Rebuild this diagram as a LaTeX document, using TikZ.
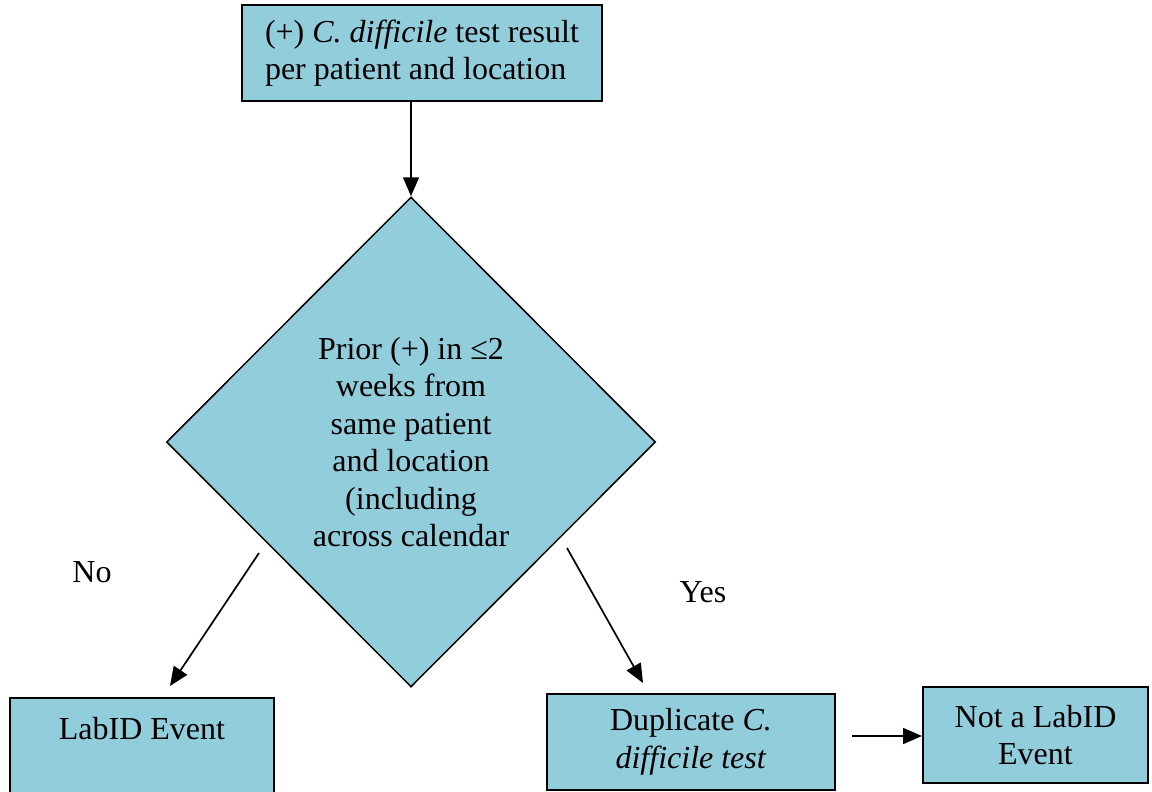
\documentclass[tikz,border=0pt]{standalone}
\usepackage{fontspec}
\setmainfont{Liberation Serif}
\usetikzlibrary{shapes.geometric,arrows.meta}
\definecolor{boxfill}{RGB}{146,205,220}
\tikzset{
  box/.style={draw=black, line width=2pt, fill=boxfill, inner sep=0pt,
    font=\fontsize{32}{37.5}\selectfont},
  conn/.style={line width=1.7pt, -{Triangle[length=19pt,width=16pt]}},
  lbl/.style={font=\fontsize{32}{37.5}\selectfont, inner sep=0pt}
}
\begin{document}
\begin{tikzpicture}[x=1pt,y=-1pt]
\useasboundingbox (0,0) rectangle (1152,792);
\node[box, minimum width=360pt, minimum height=96pt, align=left] (top) at (422,53)
  {\rule{0pt}{6pt}(+) \textit{C. difficile} test result\\per patient and location};
\node[box, line width=1.5pt, shape=diamond, minimum width=489pt, minimum height=490pt, align=center] (dec) at (411,442)
  {Prior (+) in ≤2\\weeks from\\same patient\\and location\\(including\\across calendar};
\node[box, anchor=north, minimum width=264pt, text height=41pt, text depth=110pt, align=center] (lab) at (142,697)
  {LabID Event};
\node[box, minimum width=288pt, minimum height=96pt, align=center] (dup) at (691,742)
  {Duplicate \textit{C.}\\\textit{difficile test}};
\node[box, minimum width=225pt, minimum height=96pt, align=center] (not) at (1035.5,735)
  {Not a LabID\\Event};
\coordinate (nostart) at (259,553);
\coordinate (noend) at (170,686);
\coordinate (yesstart) at (567,548);
\coordinate (yesend) at (643,683);
\coordinate (hstart) at (852,736);
\draw[conn] (top.south -| dec.north) -- (dec.north);
\draw[conn] (nostart) -- (noend);
\draw[conn] (yesstart) -- (yesend);
\draw[conn] (hstart) -- (hstart -| not.west);
\node[lbl] (no) at (92,572) {No};
\node[lbl] (yes) at (703,592) {Yes};
\end{tikzpicture}
\end{document}
